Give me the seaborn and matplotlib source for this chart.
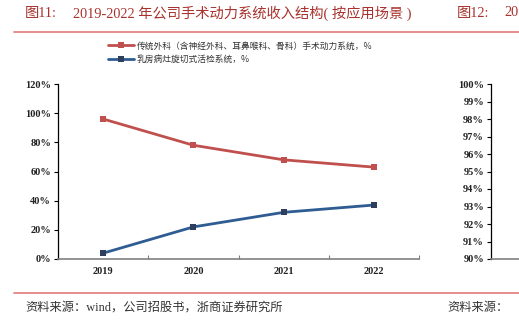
import matplotlib
matplotlib.use("Agg")
import matplotlib.pyplot as plt
import seaborn as sns
import pandas as pd
from matplotlib.ticker import FixedLocator, PercentFormatter

sns.set_theme(style="white")
plt.rcParams['font.family'] = ['Liberation Serif', 'Noto Sans CJK SC', 'DejaVu Sans']

years = ["2019", "2020", "2021", "2022"]
series_names = ["传统外科（含神经外科、耳鼻喉科、骨科）手术动力系统，%",
                "乳房病灶旋切式活检系统，%"]
traditional = [96, 78, 68, 63]
breast = [4, 22, 32, 37]
y_ticks = [0, 20, 40, 60, 80, 100, 120]
right_ticks = [90, 91, 92, 93, 94, 95, 96, 97, 98, 99, 100]

df = pd.DataFrame({
    "year": years * 2,
    "value": traditional + breast,
    "series": [series_names[0]] * 4 + [series_names[1]] * 4,
})

red = "#C0504D"
blue = "#2F5C92"
blue_mk = "#2E3F5E"

fig = plt.figure(figsize=(5.19, 3.22), dpi=100)
ax = fig.add_axes([58/519, 63/322, 361/519, 175/322])

sns.lineplot(data=df, x="year", y="value", hue="series", palette=[red, blue],
             marker="s", markersize=4.5, linewidth=2.0, markeredgewidth=0,
             ax=ax, legend=True, sort=False)
for ln in ax.get_lines():
    if matplotlib.colors.to_hex(ln.get_color()).lower() == blue.lower():
        ln.set_markerfacecolor(blue_mk)

ax.set_xlim(-0.5, 3.5)
ax.set_ylim(0, 120)
ax.yaxis.set_major_locator(FixedLocator(y_ticks))
ax.yaxis.set_major_formatter(PercentFormatter(decimals=0))
ax.set_xlabel("")
ax.set_ylabel("")
for s in ["top", "right"]:
    ax.spines[s].set_visible(False)
ax.spines["left"].set_color("black")
ax.spines["left"].set_linewidth(0.9)
ax.spines["bottom"].set_color("#808080")
ax.spines["bottom"].set_linewidth(1.2)
ax.tick_params(axis="y", which="major", direction="out", length=3, width=0.8,
               color="black", left=True, labelsize=7.5, pad=2)
ax.tick_params(axis="x", which="major", length=0, labelsize=7.5, pad=6)
ax.xaxis.set_minor_locator(FixedLocator([0.5, 1.5, 2.5, 3.5]))
ax.tick_params(axis="x", which="minor", direction="in", length=3, width=0.8,
               color="#808080", bottom=True)
for lab in ax.get_xticklabels() + ax.get_yticklabels():
    lab.set_fontweight("bold")
    lab.set_color("#222222")

handles, labels = ax.get_legend_handles_labels()
ax.legend(handles, labels, loc="upper left", bbox_to_anchor=(104/519, 1 - 38/322),
          bbox_transform=fig.transFigure, frameon=False, handlelength=3.0,
          handletextpad=0.3, labelspacing=0.5, borderaxespad=0,
          prop={"family": ["Noto Sans CJK SC"], "size": 6.3}, labelcolor="#333333")

# partial right chart (figure 12)
ax2 = fig.add_axes([491/519, 63/322, 0.2, 175/322])
ax2.set_ylim(90, 100)
ax2.set_xlim(0, 1)
ax2.yaxis.set_major_locator(FixedLocator(right_ticks))
ax2.yaxis.set_major_formatter(PercentFormatter(decimals=0))
ax2.set_xticks([])
for s in ["top", "right"]:
    ax2.spines[s].set_visible(False)
ax2.spines["left"].set_color("black")
ax2.spines["left"].set_linewidth(0.9)
ax2.spines["bottom"].set_color("#808080")
ax2.spines["bottom"].set_linewidth(1.2)
ax2.tick_params(axis="y", direction="out", length=3, width=0.8, color="black",
                left=True, labelsize=7.5, pad=2)
for lab in ax2.get_yticklabels():
    lab.set_fontweight("bold")
    lab.set_color("#222222")
ax2.set_facecolor("none")

title_color = "#A8322D"
fs_title = 10.3
fig.text(25/519, 1 - 13/322, "图11:", color=title_color, fontsize=fs_title, va="center", ha="left")
fig.text(73/519, 1 - 13/322, "2019-2022 年公司手术动力系统收入结构( 按应用场景 )",
         color=title_color, fontsize=fs_title, va="center", ha="left")
fig.text(457/519, 1 - 13/322, "图12:", color=title_color, fontsize=fs_title, va="center", ha="left")
fig.text(504/519, 1 - 13/322, "20", color=title_color, fontsize=fs_title, va="center", ha="left")

line_color = "#E07A78"
fig.add_artist(plt.Line2D([14/519, 1], [1 - 32/322] * 2, color=line_color, linewidth=1.2,
                          transform=fig.transFigure))
fig.add_artist(plt.Line2D([14/519, 1], [1 - 293/322] * 2, color=line_color, linewidth=1.2,
                          transform=fig.transFigure))

fig.text(25/519, 1 - 308/322, "资料来源：wind，公司招股书，浙商证券研究所", color="#333333",
         fontsize=8.8, va="center", ha="left")
fig.text(447/519, 1 - 308/322, "资料来源：", color="#333333", fontsize=8.8, va="center", ha="left")

fig.savefig("out.png", dpi=100)
